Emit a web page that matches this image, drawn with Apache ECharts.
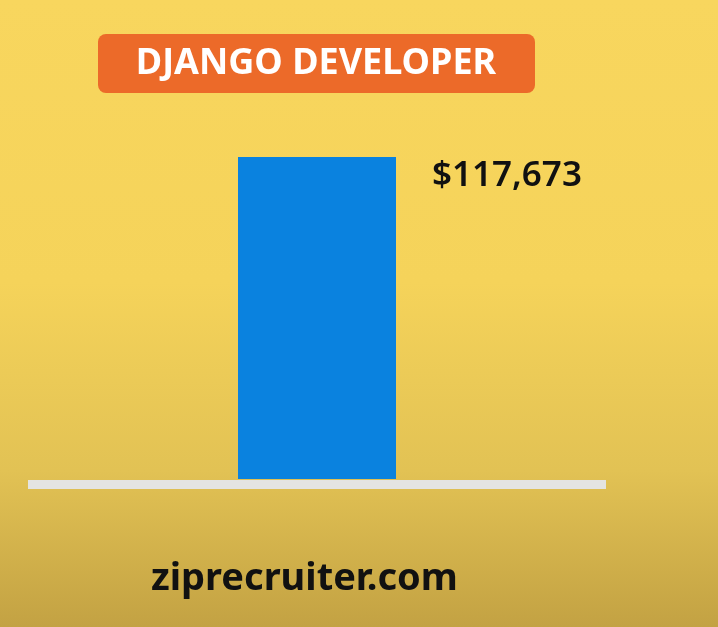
<!DOCTYPE html>
<html>
<head>
<meta charset="utf-8">
<script src="https://cdn.jsdelivr.net/npm/echarts@6/dist/echarts.min.js"></script>
<style>
html,body{margin:0;padding:0;width:718px;height:627px;overflow:hidden;}
body{background:linear-gradient(to bottom,#F8D65E 0%,#F5D35A 45%,#E2C254 75%,#C3A243 100%);}
#chart{width:718px;height:627px;}
</style>
</head>
<body>
<div id="chart"></div>
<script>
const categories = ['Django Developer'];
const salaries = [117673];
const chartTitle = 'DJANGO DEVELOPER';
const sourceText = 'ziprecruiter.com';

const chart = echarts.init(document.getElementById('chart'), null, {renderer: 'canvas'});
chart.setOption({
  backgroundColor: 'transparent',
  animation: false,
  title: [{
    text: sourceText,
    left: 146,
    top: 555,
    textStyle: {fontFamily: 'Noto Sans', fontWeight: 700, fontSize: 38, color: '#111'}
  }],
  graphic: [{
    type: 'group',
    left: 98,
    top: 34,
    children: [{
      type: 'rect',
      shape: {x: 0, y: 0, width: 437, height: 59, r: 8},
      style: {fill: '#EC6A29'}
    }, {
      type: 'text',
      x: 218,
      y: 30,
      style: {
        text: chartTitle,
        fill: '#ffffff',
        font: '700 36px "Noto Sans"',
        textAlign: 'center',
        textVerticalAlign: 'middle'
      }
    }]
  }],
  grid: {left: 28, right: 112, top: 157, bottom: 148},
  xAxis: {
    type: 'category',
    data: categories,
    offset: 5,
    axisLine: {show: true, onZero: false, lineStyle: {color: '#E4E4E1', width: 9, cap: 'butt'}},
    axisTick: {show: false},
    axisLabel: {show: false}
  },
  yAxis: {
    type: 'value',
    min: 0,
    max: 117673,
    show: false,
    splitLine: {show: false}
  },
  series: [{
    type: 'bar',
    data: salaries,
    barWidth: 158,
    itemStyle: {color: '#0A82DF'},
    label: {
      show: true,
      position: [194, 19],
      align: 'left',
      verticalAlign: 'middle',
      formatter: p => '$' + p.value.toLocaleString('en-US'),
      fontFamily: 'Noto Sans',
      fontWeight: 600,
      fontSize: 35,
      color: '#111'
    }
  }]
});
</script>
</body>
</html>
